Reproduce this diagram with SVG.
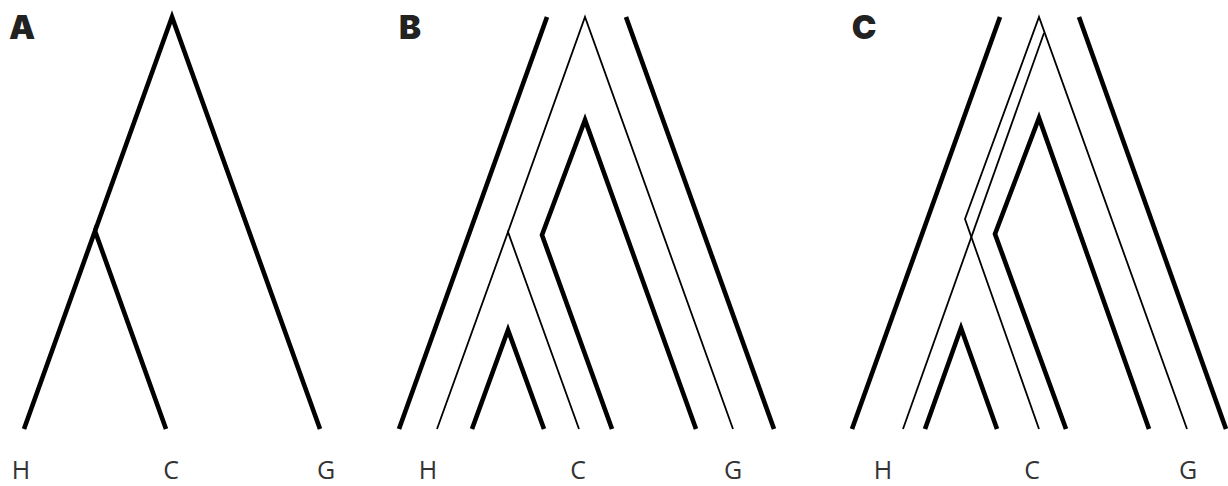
<svg xmlns="http://www.w3.org/2000/svg" width="1228" height="486" viewBox="0 0 1228 486">
  <style>
    .thick { fill: none; stroke: #000; stroke-width: 4.6; stroke-linejoin: miter; stroke-linecap: butt; }
    .thin  { fill: none; stroke: #000; stroke-width: 1.8; stroke-linejoin: miter; stroke-linecap: butt; }
    .panel { font-family: Inter, "DejaVu Sans", sans-serif; font-weight: 900; font-size: 33px; fill: #222; text-anchor: middle; }
    .taxon { font-family: "Open Sans", "Noto Sans", sans-serif; font-size: 25px; fill: #333; text-anchor: middle; }
  </style>
  <rect width="1228" height="486" fill="#fff"/>

  <!-- Panel A: species tree -->
  <g id="panelA">
    <text class="panel" x="22" y="39">A</text>
    <g id="treeA">
      <polyline class="thick" points="24,429 95,231 166,429"/>
      <polyline class="thick" points="95,231 172,17 320,429"/>
    </g>
    <g id="labelsA">
      <text class="taxon" x="21" y="479">H</text>
      <text class="taxon" x="171" y="479">C</text>
      <text class="taxon" x="326" y="479">G</text>
    </g>
  </g>

  <!-- Panel B: gene tree inside species tree -->
  <g id="panelB">
    <text class="panel" x="410" y="39">B</text>
    <g id="speciesB">
      <line class="thick" x1="547" y1="17" x2="399" y2="429"/>
      <polyline class="thick" points="472,429 508,330 544,429"/>
      <polyline class="thick" points="612,429 542,235 585,120 696,429"/>
      <line class="thick" x1="626" y1="17" x2="774" y2="429"/>
    </g>
    <g id="geneB">
      <polyline class="thin" points="437,429 508,232 579,429"/>
      <polyline class="thin" points="508,232 585,17 733,429"/>
    </g>
    <g id="labelsB">
      <text class="taxon" x="428" y="479">H</text>
      <text class="taxon" x="578" y="479">C</text>
      <text class="taxon" x="733" y="479">G</text>
    </g>
  </g>

  <!-- Panel C: incomplete lineage sorting -->
  <g id="panelC">
    <text class="panel" x="864" y="39">C</text>
    <g id="speciesC">
      <line class="thick" x1="1000" y1="17" x2="852" y2="429"/>
      <polyline class="thick" points="925,429 961,328 997,429"/>
      <polyline class="thick" points="1066,429 995,234 1039,118 1149,429"/>
      <line class="thick" x1="1079" y1="17" x2="1226" y2="429"/>
    </g>
    <g id="geneC">
      <polyline class="thin" points="1039,429 965,219 1039,17 1187,429"/>
      <line class="thin" x1="1044" y1="33" x2="903" y2="429"/>
    </g>
    <g id="labelsC">
      <text class="taxon" x="883" y="479">H</text>
      <text class="taxon" x="1032" y="479">C</text>
      <text class="taxon" x="1188" y="479">G</text>
    </g>
  </g>
</svg>
